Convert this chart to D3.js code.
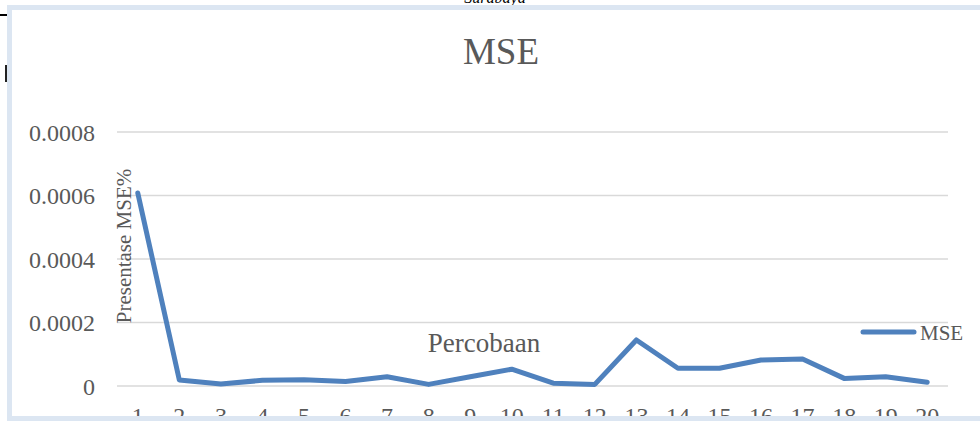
<!DOCTYPE html>
<html>
<head>
<meta charset="utf-8">
<script src="https://cdn.jsdelivr.net/npm/d3@7"></script>
<style>
html,body{margin:0;padding:0;background:#fff;}
svg{display:block;}
text{font-family:"Liberation Serif","DejaVu Serif",serif;}
</style>
</head>
<body>
<svg id="chart" width="980" height="421"></svg>
<script>
const categories = ["1","2","3","4","5","6","7","8","9","10","11","12","13","14","15","16","17","18","19","20"];
const mseValues = [0.000608,0.000019,0.000006,0.000018,0.00002,0.000014,0.000029,0.000005,0.000029,0.000053,0.000009,0.000005,0.000145,0.000056,0.000056,0.000082,0.000085,0.000024,0.000029,0.000012];
const yTicks = [0,0.0002,0.0004,0.0006,0.0008];
const yTickLabels = ["0","0.0002","0.0004","0.0006","0.0008"];
const seriesName = "MSE";
const titleText = "MSE";
const yTitle = "Presentase MSE%";
const xTitle = "Percobaan";

const svg = d3.select("#chart");
const gray = "#595959";
const lineColor = "#4f81bd";

svg.append("rect").attr("x",0).attr("y",0).attr("width",980).attr("height",421).attr("fill","#fff");

// top cut text
svg.append("text").attr("x",495).attr("y",3).attr("text-anchor","middle")
  .attr("font-style","italic").attr("font-size",16).attr("fill","#000").text("Surabaya");

const plotLeft = 117, plotRight = 948, plotTop = 132, plotBottom = 386;
const x = d3.scaleBand().domain(categories).range([plotLeft, plotRight]);
const y = d3.scaleLinear().domain([0,0.0008]).range([plotBottom, plotTop]);

// gridlines
svg.append("g").selectAll("line").data(yTicks).join("line")
  .attr("x1",plotLeft).attr("x2",plotRight)
  .attr("y1",d=>y(d)).attr("y2",d=>y(d))
  .attr("stroke","#d9d9d9").attr("stroke-width",1.5);

// y axis
const yAxis = d3.axisLeft(y).tickValues(yTicks).tickSize(0).tickPadding(0)
  .tickFormat((d,i)=>yTickLabels[i]);
const gy = svg.append("g").attr("transform","translate(95,0)").call(yAxis);
gy.select(".domain").remove();
gy.selectAll("text").attr("font-family","Liberation Serif, serif").attr("font-size",24).attr("fill",gray).attr("dy","0.34em");

// x axis
const xAxis = d3.axisBottom(x).tickSize(0).tickPadding(0);
const gx = svg.append("g").attr("transform","translate(0,406)").call(xAxis);
gx.select(".domain").remove();
gx.selectAll("text").attr("font-family","Liberation Serif, serif").attr("font-size",24).attr("fill",gray).attr("dy","0.75em");

// title
svg.append("text").attr("x",501).attr("y",64).attr("text-anchor","middle")
  .attr("font-size",37).attr("fill",gray).text(titleText);

// y title
svg.append("text").attr("transform","translate(131,246) rotate(-90)").attr("text-anchor","middle")
  .attr("font-size",21).attr("fill",gray).text(yTitle);

// x title
svg.append("text").attr("x",484).attr("y",352).attr("text-anchor","middle")
  .attr("font-size",27).attr("fill",gray).text(xTitle);

// line
const line = d3.line().x((d,i)=>x(categories[i])+x.bandwidth()/2).y(d=>y(d));
svg.append("path").datum(mseValues).attr("d",line).attr("fill","none")
  .attr("stroke",lineColor).attr("stroke-width",5).attr("stroke-linejoin","round").attr("stroke-linecap","round");

// legend
svg.append("line").attr("x1",863).attr("x2",914).attr("y1",332).attr("y2",332)
  .attr("stroke",lineColor).attr("stroke-width",5).attr("stroke-linecap","round");
svg.append("text").attr("x",920).attr("y",340).attr("font-size",21).attr("fill",gray).text(seriesName);

// frame
const frame = "#dce6f2";
svg.append("rect").attr("x",7).attr("y",5).attr("width",973).attr("height",5).attr("fill",frame);
svg.append("rect").attr("x",7).attr("y",5).attr("width",5).attr("height",416).attr("fill",frame);
svg.append("rect").attr("x",7).attr("y",416).attr("width",973).attr("height",5).attr("fill",frame);

// stray black marks outside frame
svg.append("line").attr("x1",0).attr("x2",7).attr("y1",15).attr("y2",15).attr("stroke","#000").attr("stroke-width",2);
svg.append("line").attr("x1",6).attr("x2",6).attr("y1",65).attr("y2",82).attr("stroke","#222").attr("stroke-width",2);
</script>
</body>
</html>
